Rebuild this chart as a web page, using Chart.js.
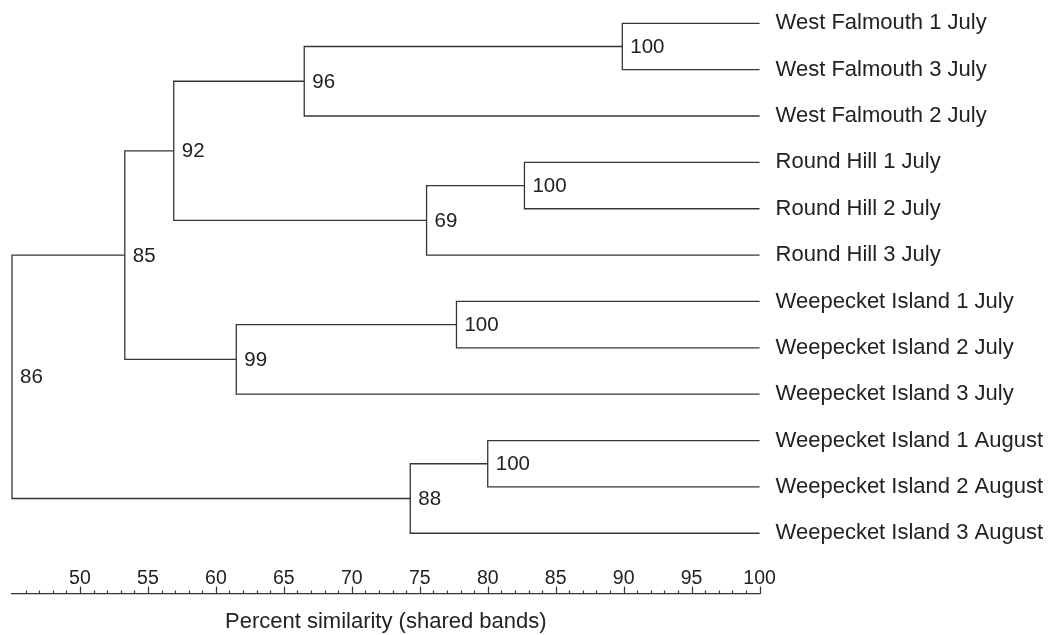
<!DOCTYPE html>
<html>
<head>
<meta charset="utf-8">
<script src="https://cdn.jsdelivr.net/npm/chart.js@4/dist/chart.umd.min.js"></script>
<style>
  html, body { margin: 0; padding: 0; background: #ffffff; }
  #wrap { width: 1055px; height: 635px; position: relative; }
</style>
</head>
<body>
<div id="wrap"><canvas id="dendro"></canvas></div>
<script>
// Samples, top to bottom in the order the tree places them
const samples = [
  'West Falmouth 1 July', 'West Falmouth 3 July', 'West Falmouth 2 July',
  'Round Hill 1 July', 'Round Hill 2 July', 'Round Hill 3 July',
  'Weepecket Island 1 July', 'Weepecket Island 2 July', 'Weepecket Island 3 July',
  'Weepecket Island 1 August', 'Weepecket Island 2 August', 'Weepecket Island 3 August'
];

// Each join links two clusters: ids 0-11 are samples, join k becomes cluster 12 + k
const joinLeft       = [0, 12, 3, 14, 13, 6, 17, 16, 9, 20, 19];
const joinRight      = [1, 2, 4, 5, 15, 7, 8, 18, 10, 11, 21];
const joinSimilarity = [89.9, 66.5, 82.7, 75.5, 56.9, 77.7, 61.5, 53.3, 80.0, 74.3, 45.0];
const joinSupport    = [100, 96, 100, 69, 92, 100, 99, 85, 100, 88, 86];

const axisTicks = [50, 55, 60, 65, 70, 75, 80, 85, 90, 95, 100];
const axisTitle = 'Percent similarity (shared bands)';

const FONT = '"Liberation Sans", Arial, Helvetica, sans-serif';
const INK = '#222222';
const LINE = '#363636';

// Cluster coordinates: samples sit at 100 %, joins at their similarity,
// each join centred vertically between its two children
const nodeX = samples.map(() => 100);
const nodeY = samples.map((_, i) => i);
joinSimilarity.forEach((s, k) => {
  nodeX.push(s);
  nodeY.push((nodeY[joinLeft[k]] + nodeY[joinRight[k]]) / 2);
});

// One bracket per join: child A -> join level -> child B
const datasets = joinSimilarity.map((s, k) => {
  const a = joinLeft[k], b = joinRight[k];
  return {
    label: 'join ' + (k + 1),
    borderColor: LINE,
    backgroundColor: LINE,
    borderWidth: 1.3,
    showLine: true,
    pointRadius: 0,
    pointHoverRadius: 0,
    tension: 0,
    fill: false,
    clip: false,
    data: [
      { x: nodeX[a], y: nodeY[a] },
      { x: s, y: nodeY[a] },
      { x: s, y: nodeY[b] },
      { x: nodeX[b], y: nodeY[b] }
    ]
  };
});

// Minor/major tick marks standing on the similarity axis, plus the support values at each join
const treeDecor = {
  id: 'treeDecor',
  afterDraw(chart) {
    const { ctx, chartArea, scales: { x, y } } = chart;
    ctx.save();
    ctx.strokeStyle = LINE;
    ctx.lineWidth = 1.2;
    ctx.beginPath();
    const base = chartArea.bottom;
    for (let v = Math.ceil(x.min) + 1; v <= x.max; v += 1) {
      const px = Math.round(x.getPixelForValue(v)) + 0.5;
      const len = v % 5 === 0 ? 7.5 : 3.5;
      ctx.moveTo(px, base);
      ctx.lineTo(px, base - len);
    }
    ctx.stroke();

    ctx.fillStyle = INK;
    ctx.font = '20.5px ' + FONT;
    ctx.textAlign = 'left';
    ctx.textBaseline = 'middle';
    joinSupport.forEach((val, k) => {
      const px = x.getPixelForValue(joinSimilarity[k]) + 8;
      const py = y.getPixelForValue(nodeY[samples.length + k]) + 1;
      ctx.fillText(String(val), px, py);
    });
    ctx.restore();
  }
};

new Chart(document.getElementById('dendro'), {
  type: 'scatter',
  data: { datasets },
  plugins: [treeDecor],
  options: {
    responsive: true,
    maintainAspectRatio: false,
    animation: false,
    devicePixelRatio: 1,
    layout: { padding: { left: 12, right: 12, top: 14, bottom: 0 } },
    plugins: {
      colors: { enabled: false },
      legend: { display: false },
      tooltip: { enabled: false }
    },
    scales: {
      x: {
        type: 'linear',
        position: 'bottom',
        min: 45,
        max: 100,
        afterBuildTicks: (scale) => { scale.ticks = axisTicks.map(v => ({ value: v })); },
        ticks: {
          mirror: true,
          padding: 4,
          autoSkip: false,
          maxRotation: 0,
          color: INK,
          font: { family: FONT, size: 19.5 },
          callback: (v) => String(v)
        },
        grid: { display: true, drawOnChartArea: false, drawTicks: false },
        border: { display: true, color: LINE, width: 1.3 },
        title: {
          display: true,
          text: axisTitle,
          color: INK,
          font: { family: FONT, size: 22 },
          padding: { top: 6.6, bottom: 0 }
        }
      },
      y: {
        type: 'linear',
        position: 'right',
        reverse: true,
        min: -0.2006,
        max: 12.31,
        afterBuildTicks: (scale) => { scale.ticks = samples.map((_, i) => ({ value: i })); },
        ticks: {
          padding: 0,
          autoSkip: false,
          color: INK,
          font: { family: FONT, size: 22 },
          callback: (v) => samples[v] !== undefined ? samples[v] : ''
        },
        grid: {
          display: true,
          drawOnChartArea: false,
          drawTicks: true,
          tickLength: 16,
          tickColor: 'rgba(0,0,0,0)'
        },
        border: { display: false }
      }
    }
  }
});
</script>
</body>
</html>
